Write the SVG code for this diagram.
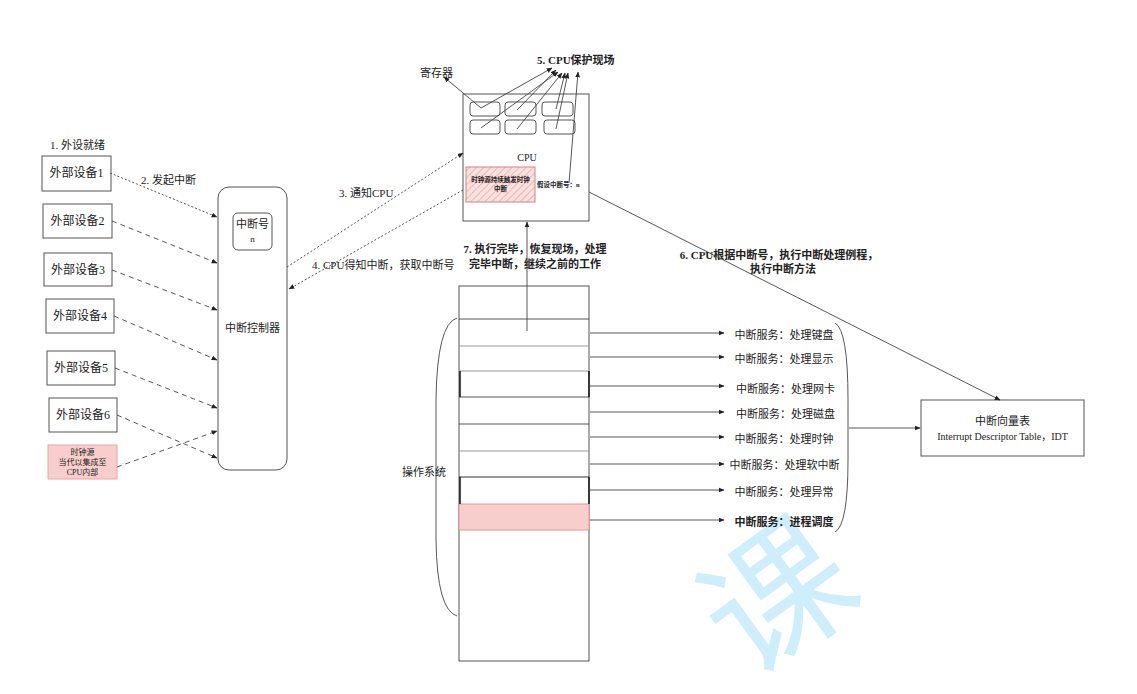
<svg xmlns="http://www.w3.org/2000/svg" width="1137" height="694" viewBox="0 0 1137 694">
<defs>
<marker id="ah" viewBox="0 0 10 10" refX="9" refY="5" markerWidth="6" markerHeight="6" orient="auto" markerUnits="userSpaceOnUse"><path d="M0,1 L10,5 L0,9 Z" fill="#222"/></marker>
<pattern id="hatch" patternUnits="userSpaceOnUse" width="5" height="5" patternTransform="rotate(45)"><rect width="5" height="5" fill="#fbe1df"/><line x1="0" y1="0" x2="0" y2="5" stroke="#eaa8a5" stroke-width="1.5"/></pattern>
<style>
text{font-family:"Liberation Serif","Noto Sans CJK SC",serif;fill:#222}
.box{fill:#fff;stroke:#555;stroke-width:1}
.t12{font-size:12px}
.t11{font-size:11px}
.b{font-weight:bold;font-size:11px}
.dash{fill:none;stroke:#444;stroke-width:0.9;stroke-dasharray:5 4}
.dot{fill:none;stroke:#444;stroke-width:0.9;stroke-dasharray:2 2}
.ln{fill:none;stroke:#444;stroke-width:0.9}
</style>
</defs>
<rect width="1137" height="694" fill="#fff"/>
<text x="780" y="648" font-size="145" transform="rotate(-36 780 600)" text-anchor="middle" style="fill:#cdeefa;font-family:'Noto Sans CJK SC',sans-serif">课</text>

<g id="label-ready"><text x="50" y="149" class="t11">1. 外设就绪</text></g>
<g id="dev1"><rect class="box" x="42" y="156" width="69" height="35"/><text x="76.5" y="177" class="t12" text-anchor="middle">外部设备1</text></g>
<g id="dev2"><rect class="box" x="43" y="204" width="69" height="34"/><text x="77.5" y="225" class="t12" text-anchor="middle">外部设备2</text></g>
<g id="dev3"><rect class="box" x="44" y="253" width="68" height="33"/><text x="78" y="274" class="t12" text-anchor="middle">外部设备3</text></g>
<g id="dev4"><rect class="box" x="46" y="299" width="68" height="34"/><text x="80" y="320" class="t12" text-anchor="middle">外部设备4</text></g>
<g id="dev5"><rect class="box" x="47" y="351" width="68" height="34"/><text x="81" y="372" class="t12" text-anchor="middle">外部设备5</text></g>
<g id="dev6"><rect class="box" x="49" y="398" width="68" height="34"/><text x="83" y="419" class="t12" text-anchor="middle">外部设备6</text></g>
<g id="clock"><rect x="48" y="445" width="69" height="34" fill="#f8cecc" stroke="#e8a6a3"/>
<text x="82.5" y="455" font-size="8" text-anchor="middle">时钟源</text>
<text x="82.5" y="465" font-size="8" text-anchor="middle">当代以集成至</text>
<text x="82.5" y="475" font-size="8" text-anchor="middle">CPU内部</text></g>

<g id="controller"><rect class="box" x="218" y="187" width="69" height="283" rx="11"/>
<rect class="box" x="233" y="213" width="39" height="37" rx="5"/>
<text x="252.5" y="228" class="t11" text-anchor="middle">中断号</text>
<text x="252.5" y="242" font-size="9" text-anchor="middle">n</text>
<text x="252.5" y="332" class="t11" text-anchor="middle">中断控制器</text></g>

<g id="cpu"><rect class="box" x="463" y="94" width="126" height="127"/>
<rect class="box" x="470" y="102" width="30" height="14" rx="3"/>
<rect class="box" x="505" y="102" width="31" height="14" rx="3"/>
<rect class="box" x="542" y="102" width="31" height="14" rx="3"/>
<rect class="box" x="470" y="120" width="30" height="14" rx="3"/>
<rect class="box" x="505" y="120" width="31" height="14" rx="3"/>
<rect class="box" x="544" y="120" width="31" height="14" rx="3"/>
<text x="527" y="161" font-size="10" text-anchor="middle">CPU</text>
<rect x="466" y="167" width="69" height="35" fill="url(#hatch)" stroke="#d9827e"/>
<text x="500.5" y="182" font-size="6.5" font-weight="bold" text-anchor="middle">时钟源持续触发时钟</text>
<text x="500.5" y="191" font-size="6.5" font-weight="bold" text-anchor="middle">中断</text>
<text x="537" y="187" font-size="6.5" font-weight="bold">假设中断号：n</text></g>

<g id="label-reg"><text x="420" y="77" class="t11">寄存器</text></g>
<g id="label-5"><text x="537" y="64" class="b">5. CPU保护现场</text></g>
<g id="label-2"><text x="141" y="184" class="t11">2. 发起中断</text></g>
<g id="label-3"><text x="339" y="197" class="t11">3. 通知CPU</text></g>
<g id="label-4"><text x="312" y="269" class="t11">4. CPU得知中断，获取中断号</text></g>
<g id="label-7"><text x="535" y="253" class="b" text-anchor="middle">7. 执行完毕，恢复现场，处理</text><text x="535" y="268" class="b" text-anchor="middle">完毕中断，继续之前的工作</text></g>
<g id="label-6"><text x="779" y="259" class="b" text-anchor="middle">6. CPU根据中断号，执行中断处理例程，</text><text x="783" y="273" class="b" text-anchor="middle">执行中断方法</text></g>

<g id="memory">
<rect class="box" x="459" y="286" width="130" height="375"/>
<rect x="459" y="504" width="130" height="26" fill="#f8cecc" stroke="#e09a97"/>
<line class="ln" x1="459" y1="319" x2="589" y2="319"/>
<line x1="459" y1="346" x2="589" y2="346" stroke="#999"/>
<line x1="459" y1="371" x2="589" y2="371" stroke="#999"/>
<line x1="459" y1="397" x2="589" y2="397" stroke="#555"/>
<line x1="460" y1="371" x2="460" y2="397" stroke="#111" stroke-width="1.5"/>
<line x1="589" y1="371" x2="589" y2="397" stroke="#111" stroke-width="1.5"/>
<line x1="459" y1="424" x2="589" y2="424" stroke="#555"/>
<line x1="459" y1="451" x2="589" y2="451" stroke="#999"/>
<line x1="459" y1="477" x2="589" y2="477" stroke="#333"/>
<line x1="460" y1="477" x2="460" y2="504" stroke="#111" stroke-width="1.5"/>
<line x1="589" y1="477" x2="589" y2="504" stroke="#111" stroke-width="1.5"/>
<path d="M457,318 Q437,324 436,400 L436,540 Q437,610 457,616" class="ln" stroke="#666"/>
<text x="402" y="476" class="t11">操作系统</text>
</g>

<g id="idt"><rect class="box" x="921" y="400" width="163" height="56"/>
<text x="1002.5" y="425" class="t11" text-anchor="middle">中断向量表</text>
<text x="1002.5" y="440" font-size="10" text-anchor="middle">Interrupt Descriptor Table，IDT</text></g>

<g id="services">
<text x="784" y="339" class="t11" text-anchor="middle">中断服务：处理键盘</text>
<text x="784" y="363" class="t11" text-anchor="middle">中断服务：处理显示</text>
<text x="785.5" y="393" class="t11" text-anchor="middle">中断服务：处理网卡</text>
<text x="785.5" y="418" class="t11" text-anchor="middle">中断服务：处理磁盘</text>
<text x="784" y="443" class="t11" text-anchor="middle">中断服务：处理时钟</text>
<text x="784.5" y="469" class="t11" text-anchor="middle">中断服务：处理软中断</text>
<text x="784" y="496" class="t11" text-anchor="middle">中断服务：处理异常</text>
<text x="784" y="526" class="b" text-anchor="middle">中断服务：进程调度</text>
<path d="M835,323 Q848,330 848,400 L848,460 Q848,525 835,532" class="ln" stroke="#666"/>
</g>

<g id="connectors">
<line class="dot" x1="110" y1="173" x2="217" y2="217" marker-end="url(#ah)"/>
<line class="dash" x1="112" y1="221" x2="217" y2="263" marker-end="url(#ah)"/>
<line class="dash" x1="112" y1="270" x2="217" y2="310" marker-end="url(#ah)"/>
<line class="dash" x1="114" y1="316" x2="217" y2="360" marker-end="url(#ah)"/>
<line class="dash" x1="115" y1="368" x2="217" y2="408" marker-end="url(#ah)"/>
<line class="dash" x1="117" y1="415" x2="217" y2="458" marker-end="url(#ah)"/>
<line class="dash" x1="117" y1="467" x2="217" y2="431" marker-end="url(#ah)"/>
<line class="dot" x1="287" y1="267" x2="463" y2="153" marker-end="url(#ah)"/>
<line class="dot" x1="463" y1="190" x2="289" y2="289" marker-end="url(#ah)"/>
<line class="ln" x1="481" y1="108" x2="444" y2="77" marker-end="url(#ah)"/>
<line class="ln" x1="481" y1="108" x2="552" y2="68" marker-end="url(#ah)"/>
<line class="ln" x1="517" y1="110" x2="556" y2="70" marker-end="url(#ah)"/>
<line class="ln" x1="481" y1="128" x2="558" y2="72" marker-end="url(#ah)"/>
<line class="ln" x1="517" y1="129" x2="562" y2="73" marker-end="url(#ah)"/>
<line class="ln" x1="556" y1="109" x2="565" y2="73" marker-end="url(#ah)"/>
<line class="ln" x1="556" y1="129" x2="568" y2="73" marker-end="url(#ah)"/>
<line class="ln" x1="569" y1="183" x2="578" y2="72" marker-end="url(#ah)"/>
<line class="ln" x1="589" y1="192" x2="1000" y2="400" marker-end="url(#ah)"/>
<line class="ln" x1="527" y1="331" x2="527" y2="222" marker-end="url(#ah)"/>
<line class="ln" x1="590" y1="333" x2="724" y2="333" marker-end="url(#ah)"/>
<line class="ln" x1="590" y1="357" x2="724" y2="357" marker-end="url(#ah)"/>
<line class="ln" x1="590" y1="386" x2="724" y2="386" marker-end="url(#ah)"/>
<line class="ln" x1="590" y1="412" x2="724" y2="412" marker-end="url(#ah)"/>
<line class="ln" x1="590" y1="437" x2="724" y2="437" marker-end="url(#ah)"/>
<line class="ln" x1="590" y1="464" x2="724" y2="464" marker-end="url(#ah)"/>
<line class="ln" x1="590" y1="490" x2="724" y2="490" marker-end="url(#ah)"/>
<line class="ln" x1="590" y1="520" x2="724" y2="520" marker-end="url(#ah)"/>
<line class="ln" x1="849" y1="428" x2="920" y2="428" marker-end="url(#ah)"/>
</g>
</svg>
